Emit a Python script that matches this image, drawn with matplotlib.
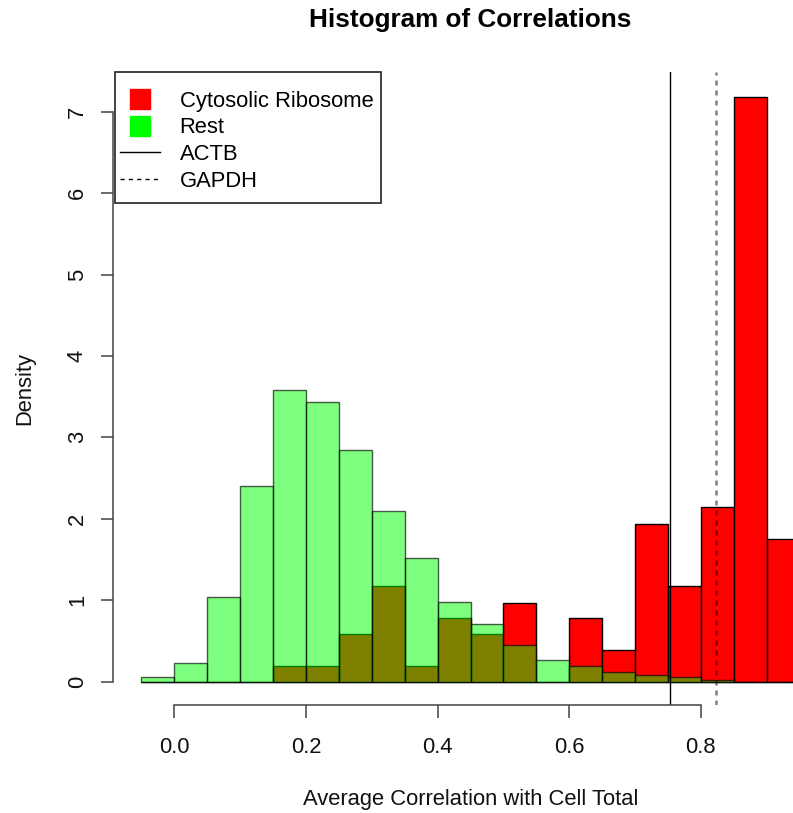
import matplotlib.pyplot as plt
from matplotlib.lines import Line2D
from matplotlib.patches import Rectangle

plt.rcParams["font.family"] = ["Liberation Sans", "DejaVu Sans"]

# histogram bins (width 0.05) and densities
bin_edges = [round(-0.05 + 0.05 * i, 2) for i in range(21)]
ribosome_density = [0, 0, 0, 0, 0.19, 0.19, 0.58, 1.17, 0.19, 0.78, 0.58,
                    0.97, 0, 0.78, 0.39, 1.94, 1.17, 2.14, 7.18, 1.75]
rest_density = [0.05, 0.23, 1.04, 2.40, 3.58, 3.43, 2.84, 2.09, 1.52, 0.98, 0.71,
                0.45, 0.27, 0.19, 0.12, 0.08, 0.05, 0.02, 0.0, 0.0]
actb = 0.753
gapdh = 0.823

W, H = 793, 813
fs = 15.8
fig = plt.figure(figsize=(W / 100, H / 100), dpi=100)
ax = fig.add_axes([115 / W, (H - 705) / H, (826 - 115) / W, (705 - 72) / H])

lefts = bin_edges[:-1]
ax.bar(lefts, ribosome_density, width=0.05, align="edge", color="#ff0000",
       edgecolor="black", linewidth=1.0)
ax.bar(lefts, rest_density, width=0.05, align="edge", color=(0, 1, 0, 0.5),
       edgecolor=(0, 0, 0, 0.65), linewidth=1.0)

ax.axvline(actb, color="black", linewidth=1)
ax.axvline(gapdh, color="black", alpha=0.5, linewidth=1.8, linestyle=(0, (2, 2)))

ax.set_xlim(-0.09, 0.99)
ax.set_ylim(-0.288, 7.488)

for s in ["top", "right"]:
    ax.spines[s].set_visible(False)
ax.spines["left"].set_bounds(0, 7)
ax.spines["left"].set_position(("outward", 1.5))
ax.spines["bottom"].set_bounds(0, 0.8)
for s in ["left", "bottom"]:
    ax.spines[s].set_color("#444444")
    ax.spines[s].set_linewidth(1.1)

ax.set_xticks([0.0, 0.2, 0.4, 0.6, 0.8])
ax.set_xticklabels(["0.0", "0.2", "0.4", "0.6", "0.8"])
ax.set_yticks(range(8))
ax.tick_params(axis="both", direction="out", length=9, width=1.1, colors="#444444",
               labelsize=fs, labelcolor="#111111")
ax.tick_params(axis="x", pad=14)
ax.tick_params(axis="y", pad=9)
plt.setp(ax.get_yticklabels(), rotation=90, va="center")

ax.set_xlabel("Average Correlation with Cell Total", fontsize=fs, labelpad=22.5,
              color="#111111")
ax.set_ylabel("Density", fontsize=fs, labelpad=23, color="#111111")
ax.set_title("Histogram of Correlations", fontsize=18.8, fontweight="bold", pad=32.4)

# legend box drawn separately so the padding matches R's legend()
ax.add_patch(Rectangle((115 / W, (H - 203) / H), 266 / W, 131 / H,
                       transform=fig.transFigure, facecolor="white",
                       edgecolor="#333333", linewidth=1.3, zorder=5, clip_on=False))
handles = [
    Line2D([], [], linestyle="none", marker="s", markersize=14.4, color="#ff0000"),
    Line2D([], [], linestyle="none", marker="s", markersize=14.4, color="#00ff00"),
    Line2D([], [], color="black", linewidth=1),
    Line2D([], [], color="black", linewidth=1, linestyle=(0, (3, 3))),
]
leg = ax.legend(handles, ["Cytosolic Ribosome", "Rest", "ACTB", "GAPDH"],
                loc="upper left", bbox_to_anchor=(120 / W, (H - 90.5) / H),
                bbox_transform=fig.transFigure, borderaxespad=0, borderpad=0,
                fontsize=fs, frameon=False, handlelength=1.82,
                handletextpad=0.9, labelspacing=0.26)
leg.set_zorder(6)

fig.savefig("out.png", dpi=100)
